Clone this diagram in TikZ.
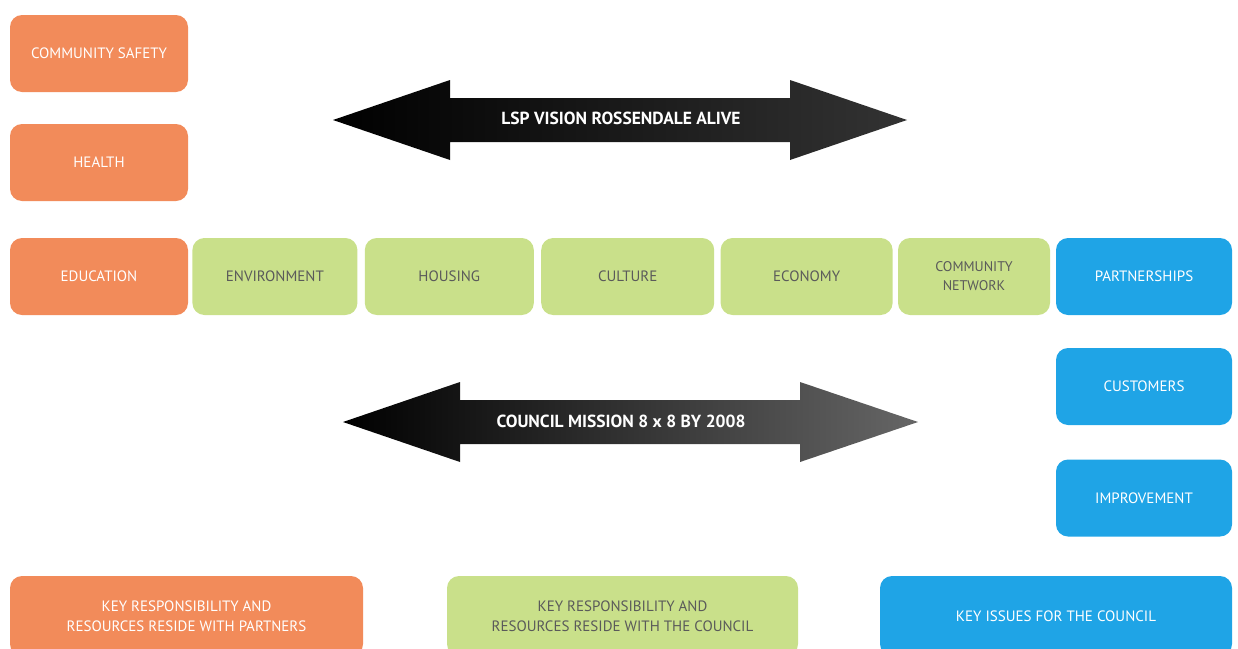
\documentclass[tikz,border=0pt]{standalone}
\usepackage{fontspec}
\setmainfont{PT Sans}
\usetikzlibrary{positioning}
\definecolor{partnerorange}{HTML}{F28B5A}
\definecolor{councilgreen}{HTML}{C9E08A}
\definecolor{issueblue}{HTML}{1FA4E6}
\definecolor{greytext}{HTML}{5A5A5A}

\begin{document}
\begin{tikzpicture}[x=1pt, y=-1pt]
	\tikzstyle{box}=[rectangle, rounded corners=12pt, minimum height=77pt, align=center, inner sep=2pt, font=\fontsize{15}{20}\selectfont]
	\tikzstyle{partner}=[box, fill=partnerorange, text=white, minimum width=178pt]
	\tikzstyle{council}=[box, fill=councilgreen, text=greytext]
	\tikzstyle{issue}=[box, fill=issueblue, text=white, minimum width=176pt]
	\tikzstyle{key}=[box, minimum height=80pt]
	\tikzstyle{banner}=[text=white, font=\bfseries\fontsize{17.5}{20}\selectfont]

	\useasboundingbox (0,0) rectangle (1238,648);

	% partner themes
	\node[partner] (safety) at (99,53.5) {COMMUNITY SAFETY};
	\node[partner] (health) at (99,162.5) {HEALTH};
	\node[partner] (education) at (99,276.5) {EDUCATION};

	% council themes
	\node[council, minimum width=165pt] (environment) [right=4pt of education] {ENVIRONMENT};
	\node[council, minimum width=169pt] (housing) [right=7pt of environment] {HOUSING};
	\node[council, minimum width=173pt] (culture) [right=7pt of housing] {CULTURE};
	\node[council, minimum width=172pt] (economy) [right=6pt of culture] {ECONOMY};
	\node[council, minimum width=152pt, font=\fontsize{14}{19}\selectfont] (network) [right=5pt of economy] {COMMUNITY\\NETWORK};

	% council issues
	\node[issue] (partnerships) at (1144,276.5) {PARTNERSHIPS};
	\node[issue] (customers) at (1144,386.5) {CUSTOMERS};
	\node[issue] (improvement) at (1144,498) {IMPROVEMENT};

	% key
	\node[key, fill=partnerorange, text=white, minimum width=353pt] (keypartner) at (186.5,616) {KEY RESPONSIBILITY AND\\RESOURCES RESIDE WITH PARTNERS};
	\node[key, fill=councilgreen, text=greytext, minimum width=351pt] (keycouncil) at (622.5,616) {KEY RESPONSIBILITY AND\\RESOURCES RESIDE WITH THE COUNCIL};
	\node[key, fill=issueblue, text=white, minimum width=352pt] (keyissues) at (1056,616) {KEY ISSUES FOR THE COUNCIL};

	% double arrows
	\shade[left color=black, right color=black!80] (333,120) -- (450,80) -- (450,98) -- (790,98) -- (790,80) -- (907,120)
		-- (790,160) -- (790,142) -- (450,142) -- (450,160) -- cycle;
	\node[banner] (vision) at (621,118) {LSP VISION ROSSENDALE ALIVE};

	\shade[left color=black, right color=black!60] (343,422) -- (460,382) -- (460,400) -- (800,400) -- (800,382) -- (918,422)
		-- (800,462) -- (800,444) -- (460,444) -- (460,462) -- cycle;
	\node[banner] (mission) at (621,421) {COUNCIL MISSION 8 x 8 BY 2008};
\end{tikzpicture}
\end{document}
